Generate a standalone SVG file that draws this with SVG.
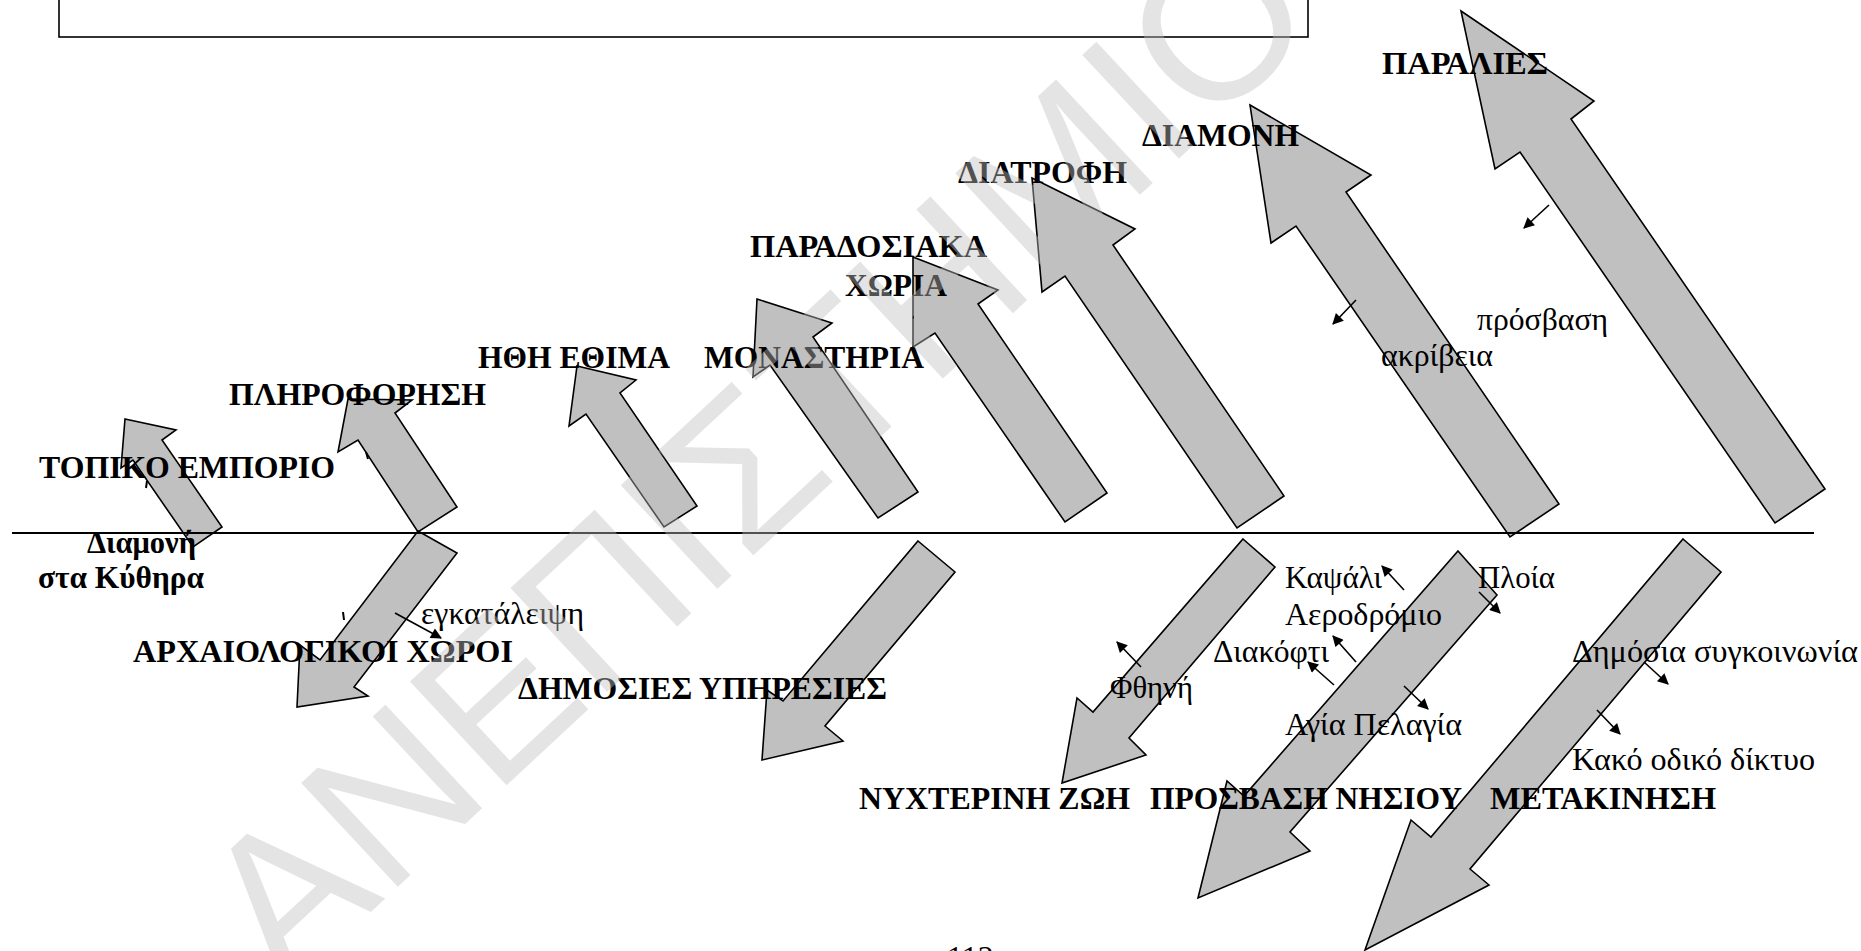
<svg xmlns="http://www.w3.org/2000/svg" width="1861" height="951" viewBox="0 0 1861 951">
<defs>
<marker id="ah" viewBox="0 0 10 10" refX="9" refY="5" markerWidth="13" markerHeight="11" markerUnits="userSpaceOnUse" orient="auto">
<path d="M0,0 L10,5 L0,10 z" fill="#000"/>
</marker>
<style>
.arr{fill:#c0c0c0;stroke:#000;stroke-width:1.6;stroke-linejoin:miter}
.b{font-family:"Liberation Serif","Times New Roman",serif;font-weight:bold;font-size:32px;fill:#000}
.r{font-family:"Liberation Serif","Times New Roman",serif;font-size:32px;fill:#000}
.c{stroke:#000;stroke-width:1.6;fill:none;marker-end:url(#ah)}
.wm{font-family:"Liberation Sans",Arial,sans-serif;font-size:206px;fill:#c0c0c0;opacity:0.42}
</style>
</defs>
<rect width="1861" height="951" fill="#fff"/>
<rect x="59" y="-5" width="1249" height="42" fill="none" stroke="#000" stroke-width="1.6"/>

<g id="n-paradosiaka">
<polygon class="arr" points="913,257 998,290 978,304 1107,493 1065,522 935,333 913,347"/>
<text class="b" x="750" y="257" textLength="237" lengthAdjust="spacingAndGlyphs">ΠΑΡΑΔΟΣΙΑΚΑ</text>
<text class="b" x="845" y="296" textLength="102" lengthAdjust="spacingAndGlyphs">ΧΩΡΙΑ</text>
</g>
<g id="n-topiko">
<polygon class="arr" points="125,419 176,430 162,440 222,527 193,547 133,460 121,468"/>
<text class="b" x="39" y="478" textLength="296" lengthAdjust="spacingAndGlyphs">ΤΟΠΙΚΟ ΕΜΠΟΡΙΟ</text>
</g>
<g id="n-plirofórisi">
<polygon class="arr" points="348,399 412,400 395,413 457,507 418,532 358,440 338,452"/>
<text class="b" x="229" y="405" textLength="257" lengthAdjust="spacingAndGlyphs">ΠΛΗΡΟΦΟΡΗΣΗ</text>
</g>
<g id="n-ithi">
<polygon class="arr" points="577,366 636,380 620,393 697,506 664,527 586,414 569,426"/>
<text class="b" x="478" y="368" textLength="192" lengthAdjust="spacingAndGlyphs">ΗΘΗ ΕΘΙΜΑ</text>
</g>
<g id="n-monastiria">
<polygon class="arr" points="757,299 832,323 813,337 918,492 878,518 770,365 753,377"/>
<text class="b" x="704" y="368" textLength="220" lengthAdjust="spacingAndGlyphs">ΜΟΝΑΣΤΗΡΙΑ</text>
</g>
<g id="n-diatrofi">
<polygon class="arr" points="1032,178 1135,229 1113,245 1284,496 1237,528 1065,276 1042,292"/>
<text class="b" x="958" y="183" textLength="169" lengthAdjust="spacingAndGlyphs">ΔΙΑΤΡΟΦΗ</text>
</g>
<g id="n-diamoni">
<polygon class="arr" points="1250,105 1371,175 1346,192 1559,504 1510,537 1296,226 1271,243"/>
<text class="b" x="1142" y="146" textLength="157" lengthAdjust="spacingAndGlyphs">ΔΙΑΜΟΝΗ</text>
</g>
<g id="n-paralies">
<polygon class="arr" points="1461,11 1594,101 1571,119 1825,489 1775,523 1520,152 1495,169"/>
<text class="b" x="1382" y="74" textLength="166" lengthAdjust="spacingAndGlyphs">ΠΑΡΑΛΙΕΣ</text>
</g>
<g id="n-archaiologikoi">
<polygon class="arr" points="418,531 457,553 354,687 368,696 297,707 300,645 320,660"/>
<text class="b" x="133" y="662" textLength="380" lengthAdjust="spacingAndGlyphs">ΑΡΧΑΙΟΛΟΓΙΚΟΙ ΧΩΡΟΙ</text>
</g>
<g id="n-dimosies">
<polygon class="arr" points="918,541 955,572 825,726 843,741 762,760 767,690 783,701"/>
<text class="b" x="518" y="699" textLength="369" lengthAdjust="spacingAndGlyphs">ΔΗΜΟΣΙΕΣ ΥΠΗΡΕΣΙΕΣ</text>
</g>
<g id="n-nychterini">
<polygon class="arr" points="1243,539 1275,567 1129,738 1146,755 1062,783 1077,698 1093,712"/>
<text class="b" x="859" y="809" textLength="271" lengthAdjust="spacingAndGlyphs">ΝΥΧΤΕΡΙΝΗ ΖΩΗ</text>
</g>
<g id="n-metakinisi">
<polygon class="arr" points="1683,539 1721,572 1470,869 1489,885 1365,950 1411,820 1431,837"/>
<text class="b" x="1490" y="809" textLength="226" lengthAdjust="spacingAndGlyphs">ΜΕΤΑΚΙΝΗΣΗ</text>
</g>
<g id="n-prosvasi">
<polygon class="arr" points="1458,551 1497,595 1290,832 1310,851 1198,898 1227,781 1244,796"/>
<text class="b" x="1150" y="809" textLength="312" lengthAdjust="spacingAndGlyphs">ΠΡΟΣΒΑΣΗ ΝΗΣΙΟΥ</text>
</g>
<g id="n-diamoni-kythira">
<text class="b" x="87" y="553" textLength="109" lengthAdjust="spacingAndGlyphs">Διαμονή</text>
<text class="b" x="38" y="588" textLength="166" lengthAdjust="spacingAndGlyphs">στα Κύθηρα</text>
</g>

<g id="connectors">
<line x1="12" y1="533" x2="1814" y2="533" stroke="#000" stroke-width="2"/>
<line class="c" x1="395" y1="613" x2="441" y2="638"/>
<line class="c" x1="1141" y1="667" x2="1117" y2="642"/>
<line class="c" x1="1404" y1="590" x2="1382" y2="566"/>
<line class="c" x1="1479" y1="592" x2="1500" y2="613"/>
<line class="c" x1="1356" y1="662" x2="1333" y2="636"/>
<line class="c" x1="1334" y1="685" x2="1308" y2="662"/>
<line class="c" x1="1404" y1="686" x2="1428" y2="709"/>
<line class="c" x1="1644" y1="662" x2="1668" y2="684"/>
<line class="c" x1="1597" y1="710" x2="1620" y2="734"/>
<line class="c" x1="1549" y1="205" x2="1524" y2="228"/>
<line class="c" x1="1356" y1="300" x2="1333" y2="324"/>
<line x1="147" y1="481" x2="146" y2="488" stroke="#000" stroke-width="2"/>
<line x1="366" y1="452" x2="368" y2="459" stroke="#000" stroke-width="2"/>
<line x1="343" y1="612" x2="344" y2="620" stroke="#000" stroke-width="2"/>
</g>

<g id="labels">
<text class="r" x="421" y="624" textLength="163" lengthAdjust="spacingAndGlyphs">εγκατάλειψη</text>
<text class="r" x="1110" y="698" textLength="83" lengthAdjust="spacingAndGlyphs">Φθηνή</text>
<text class="r" x="1285" y="588" textLength="97" lengthAdjust="spacingAndGlyphs">Καψάλι</text>
<text class="r" x="1478" y="588" textLength="77" lengthAdjust="spacingAndGlyphs">Πλοία</text>
<text class="r" x="1285" y="625" textLength="157" lengthAdjust="spacingAndGlyphs">Αεροδρόμιο</text>
<text class="r" x="1213" y="662" textLength="116" lengthAdjust="spacingAndGlyphs">Διακόφτι</text>
<text class="r" x="1285" y="735" textLength="177" lengthAdjust="spacingAndGlyphs">Αγία Πελαγία</text>
<text class="r" x="1572" y="662" textLength="286" lengthAdjust="spacingAndGlyphs">Δημόσια συγκοινωνία</text>
<text class="r" x="1572" y="770" textLength="243" lengthAdjust="spacingAndGlyphs">Κακό οδικό δίκτυο</text>
<text class="r" x="1477" y="330" textLength="131" lengthAdjust="spacingAndGlyphs">πρόσβαση</text>
<text class="r" x="1381" y="366" textLength="112" lengthAdjust="spacingAndGlyphs">ακρίβεια</text>
<text class="r" x="947" y="968">112</text>
</g>

<text class="wm" transform="translate(285,992) rotate(-43)">ΑΝΕΠΙΣΤΗΜΙΟ</text>
</svg>
